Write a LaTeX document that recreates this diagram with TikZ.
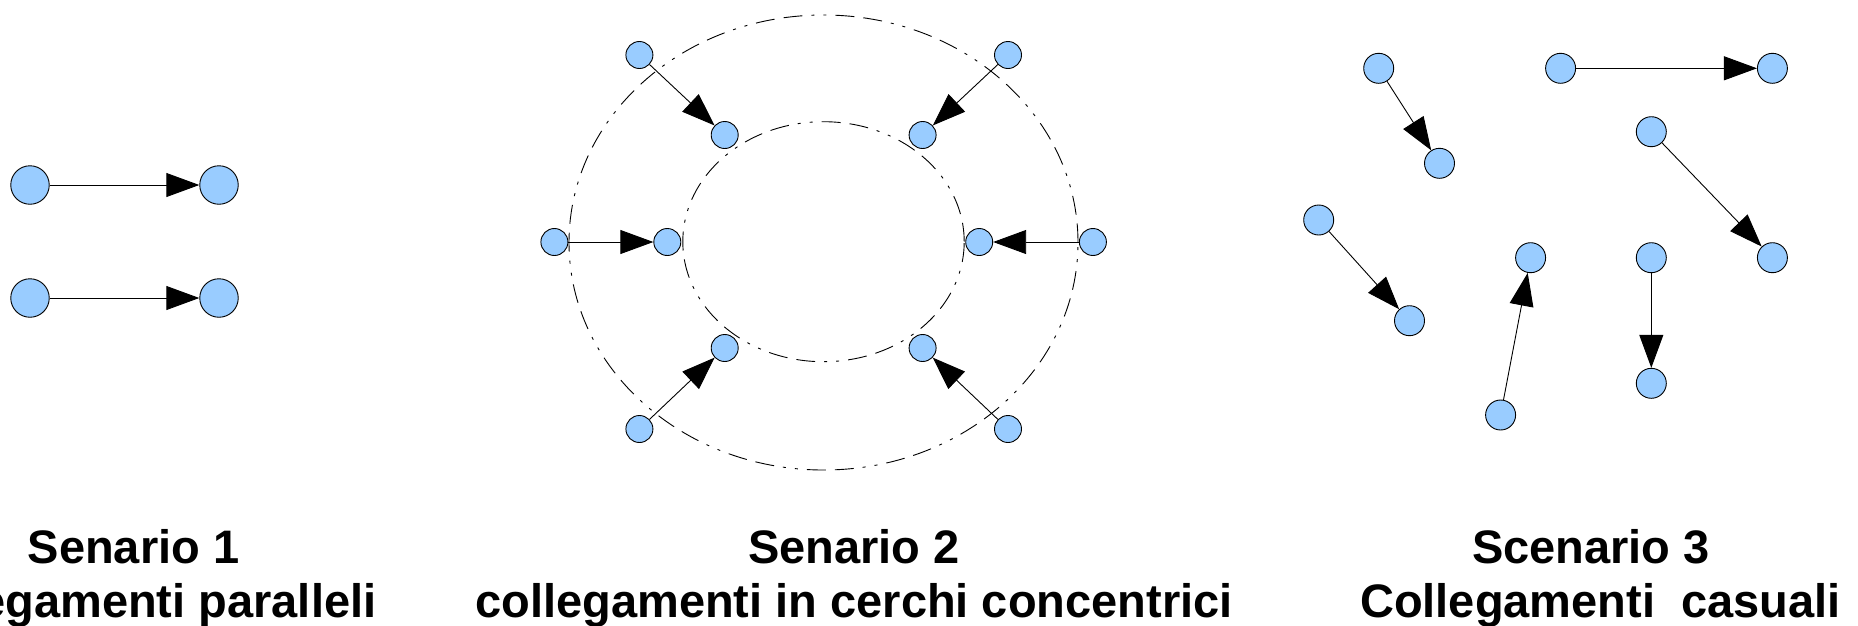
\documentclass[tikz,border=0pt]{standalone}
\usepackage{fontspec}
\setmainfont{Liberation Sans}
\usetikzlibrary{arrows.meta}
\definecolor{nodeblue}{HTML}{99CCFF}
\begin{document}
\begin{tikzpicture}[x=1pt,y=-1pt,
  blob/.style={circle,draw=black,fill=nodeblue,line width=0.9pt,inner sep=0pt,minimum size=#1},
  blob/.default=28pt,
  link/.style={line width=0.9pt,-{Triangle[length=33pt,width=24pt]}},
  orbit/.style={line width=0.9pt,dash pattern=on 19pt off 9pt on 19pt off 9pt on 3pt off 9pt on 3pt off 9pt},
  caption/.style={anchor=base,inner sep=0pt,font=\fontsize{47}{54}\selectfont\bfseries}]
\useasboundingbox (0,0) rectangle (1858,625);

% --- scenario 1: two parallel links
\node[blob=38.5pt] (p1) at (30,185) {};
\node[blob=38.5pt] (p2) at (219,185) {};
\node[blob=38.5pt] (q1) at (30,298) {};
\node[blob=38.5pt] (q2) at (219,298) {};
\draw[link] (p1) -- (p2);
\draw[link] (q1) -- (q2);

% --- scenario 2: links between concentric rings
\draw[orbit] (823.5,242.5) ellipse [x radius=254.5pt, y radius=227.5pt];
\draw[orbit] (823.5,241.7) ellipse [x radius=140.7pt, y radius=120pt];
\node[blob=27pt] (o1) at (639.4,55) {};
\node[blob=27pt] (o2) at (1008,55) {};
\node[blob=27pt] (o3) at (554.4,242) {};
\node[blob=27pt] (o4) at (1092.9,242) {};
\node[blob=27pt] (o5) at (639.4,429) {};
\node[blob=27pt] (o6) at (1008,429) {};
\node[blob=27pt] (i1) at (724.7,135) {};
\node[blob=27pt] (i2) at (922.6,135) {};
\node[blob=27pt] (i3) at (667.3,242) {};
\node[blob=27pt] (i4) at (979.2,242) {};
\node[blob=27pt] (i5) at (724.7,348) {};
\node[blob=27pt] (i6) at (922.6,348) {};
\foreach \k in {1,...,6} \draw[link] (o\k) -- (i\k);

% --- scenario 3: random links
\node[blob=30pt] (a1) at (1378.7,68.3) {};
\node[blob=30pt] (a2) at (1439.5,163.3) {};
\node[blob=30pt] (b1) at (1560.6,68.3) {};
\node[blob=30pt] (b2) at (1772.4,68.3) {};
\node[blob=30pt] (c1) at (1651.3,131.7) {};
\node[blob=30pt] (c2) at (1772.4,257.7) {};
\node[blob=30pt] (d1) at (1318.7,220) {};
\node[blob=30pt] (d2) at (1409.5,320.7) {};
\node[blob=30pt] (e1) at (1500.6,415) {};
\node[blob=30pt] (e2) at (1530.6,257.7) {};
\node[blob=30pt] (f1) at (1651.3,257.7) {};
\node[blob=30pt] (f2) at (1651.3,383.3) {};
\foreach \s in {a,b,c,d,e,f} \draw[link] (\s1) -- (\s2);

% --- captions
\node[caption] (t1) at (133.5,563) {Senario 1};
\node[caption] (u1) at (133.5,617.5) {Collegamenti paralleli};
\node[caption] (t2) at (854,563) {Senario 2};
\node[caption] (u2) at (854,617.5) {collegamenti in cerchi concentrici};
\node[caption] (t3) at (1591,563) {Scenario 3};
\node[caption] (u3) at (1600.5,617.5) {Collegamenti\ \ casuali};
\end{tikzpicture}
\end{document}
